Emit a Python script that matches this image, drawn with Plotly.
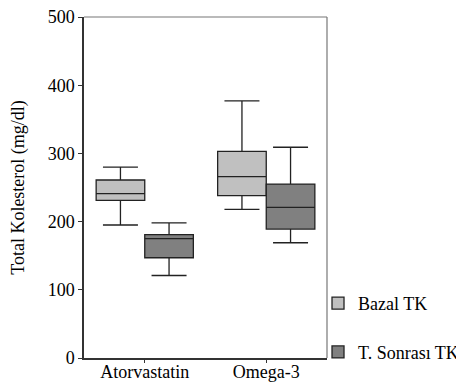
import plotly.graph_objects as go

categories = ["Atorvastatin", "Omega-3"]

bazal_low = [195, 218]
bazal_q1 = [231, 238]
bazal_med = [241, 266]
bazal_q3 = [261, 303]
bazal_high = [280, 377]

post_low = [121, 169]
post_q1 = [147, 189]
post_med = [175, 221]
post_q3 = [181, 255]
post_high = [198, 309]

FONT = "Liberation Serif, Times New Roman, serif"

fig = go.Figure()
fig.add_trace(go.Box(
    name="Bazal TK", x=categories,
    q1=bazal_q1, median=bazal_med, q3=bazal_q3,
    lowerfence=bazal_low, upperfence=bazal_high,
    fillcolor="#c0c0c0", line=dict(color="#222222", width=1.3),
    whiskerwidth=0.72, boxpoints=False, legend="legend", showlegend=True,
))
fig.add_trace(go.Box(
    name="T. Sonrası TK", x=categories,
    q1=post_q1, median=post_med, q3=post_q3,
    lowerfence=post_low, upperfence=post_high,
    fillcolor="#808080", line=dict(color="#222222", width=1.3),
    whiskerwidth=0.72, boxpoints=False, legend="legend2", showlegend=True,
))

fig.update_layout(
    width=464, height=385,
    margin=dict(l=76, r=145, t=9, b=35, autoexpand=False),
    paper_bgcolor="white", plot_bgcolor="white",
    font=dict(family=FONT, size=18, color="black"),
    showlegend=True,
    boxmode="group", boxgap=0.2, boxgroupgap=0,
    legend=dict(x=0.963, y=0.16, xanchor="left", yanchor="middle",
                bgcolor="rgba(0,0,0,0)", font=dict(size=18, color="black"), itemwidth=30),
    legend2=dict(x=0.963, y=0.017, xanchor="left", yanchor="middle",
                 bgcolor="rgba(0,0,0,0)", font=dict(size=18, color="black"), itemwidth=30),
    shapes=[
        dict(type="line", xref="paper", yref="paper", x0=0, x1=1, y0=1, y1=1,
             line=dict(color="#777777", width=1.2)),
        dict(type="line", xref="paper", yref="paper", x0=1, x1=1, y0=0, y1=1,
             line=dict(color="#777777", width=1.2)),
    ],
)
fig.update_xaxes(
    showline=True, linecolor="#333333", linewidth=1.5,
    ticks="outside", ticklen=3, tickcolor="#333333",
    showgrid=False, zeroline=False, range=[-0.5, 1.5], automargin=False,
    tickfont=dict(size=18, color="black"), ticklabelstandoff=-6,
    ticklabeloverflow="allow",
)
fig.update_yaxes(
    range=[0, 500], tickvals=[0, 100, 200, 300, 400, 500],
    showline=True, linecolor="#333333", linewidth=1.5,
    ticks="outside", ticklen=4, tickcolor="#333333",
    showgrid=False, zeroline=False, automargin=False,
    tickfont=dict(size=18, color="black"), ticklabeloverflow="allow",
    title=dict(text="Total Kolesterol (mg/dl)", font=dict(size=18, color="black"), standoff=18),
)

fig.write_html("out.html")
